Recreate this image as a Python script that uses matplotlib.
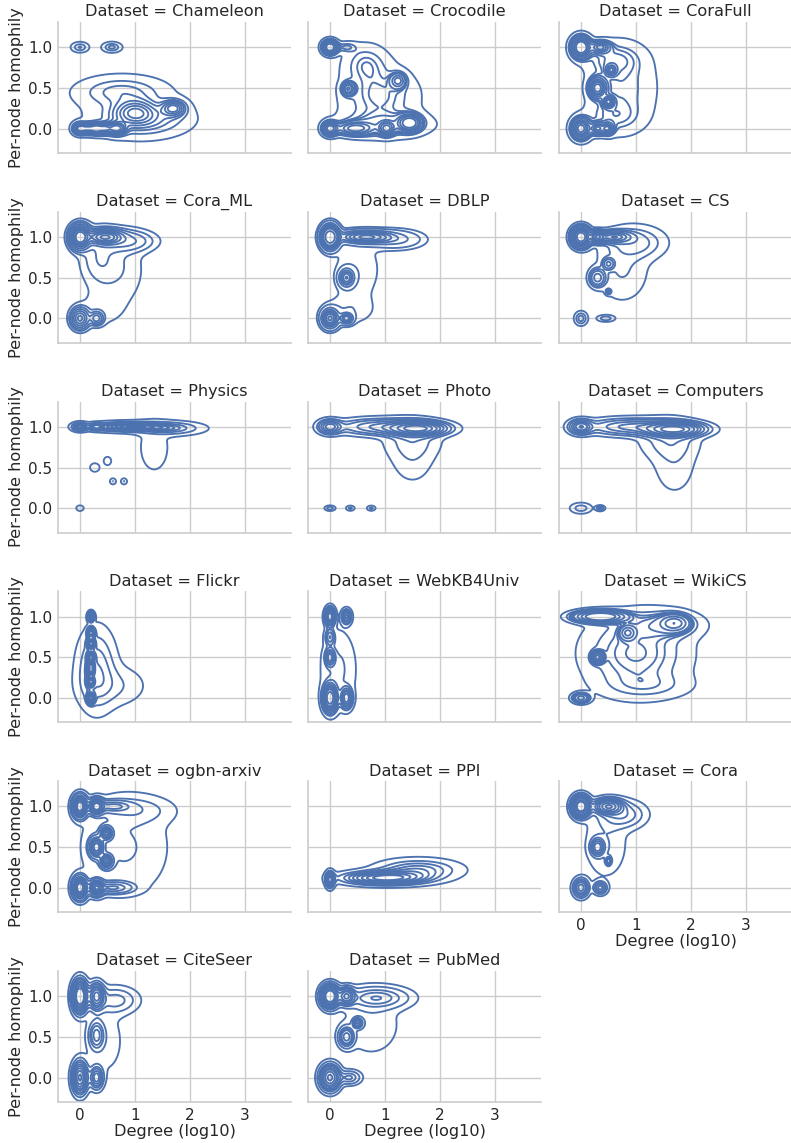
import numpy as np
import matplotlib
matplotlib.use("Agg")
import matplotlib.pyplot as plt

datasets = ["Chameleon", "Crocodile", "CoraFull", "Cora_ML", "DBLP", "CS",
            "Physics", "Photo", "Computers", "Flickr", "WebKB4Univ", "WikiCS",
            "ogbn-arxiv", "PPI", "Cora", "CiteSeer", "PubMed"]

# density components:
# (log10 degree, homophily, spread x, spread y, weight)
chameleon = [(0, 1, 0.09, 0.035, 0.008), (0.58, 1, 0.1, 0.035, 0.01),
             (0, 0, 0.07, 0.04, 0.04), (0.15, 0, 0.07, 0.04, 0.03), (0.3, 0, 0.07, 0.04, 0.04),
             (0.45, 0, 0.07, 0.04, 0.03), (0.66, 0.0, 0.1, 0.045, 0.06),
             (1.0, 0.2, 0.22, 0.09, 0.14), (1.7, 0.25, 0.13, 0.06, 0.06),
             (1.15, 0.12, 0.45, 0.12, 0.2), (0.75, 0.45, 0.45, 0.11, 0.14), (0.9, 0.2, 0.7, 0.25, 0.08)]
crocodile = [(0, 1, 0.08, 0.05, 0.06), (0.3, 1, 0.12, 0.04, 0.01),
             (0, 0, 0.08, 0.05, 0.05), (0.45, 0.0, 0.2, 0.05, 0.08), (1.03, 0.0, 0.08, 0.05, 0.04),
             (1.45, 0.07, 0.12, 0.06, 0.1), (1.0, 0.05, 0.5, 0.1, 0.14),
             (0.33, 0.49, 0.07, 0.05, 0.025), (1.24, 0.59, 0.09, 0.06, 0.03),
             (0.9, 0.4, 0.42, 0.22, 0.25), (0.65, 0.8, 0.25, 0.15, 0.08)]
corafull = [(0, 1, 0.1, 0.075, 0.14), (0, 0, 0.1, 0.075, 0.11), (0.3, 0.5, 0.09, 0.07, 0.09),
            (0.3, 0, 0.07, 0.045, 0.03), (0.48, 0, 0.07, 0.045, 0.03), (0.35, 1, 0.11, 0.045, 0.05),
            (0.55, 0.72, 0.06, 0.04, 0.02), (0.5, 0.33, 0.06, 0.04, 0.03),
            (0.75, 0.5, 0.38, 0.32, 0.24), (0.6, 0.85, 0.3, 0.12, 0.08), (0.6, 0.15, 0.3, 0.12, 0.06)]
cora_ml = [(0, 1, 0.1, 0.08, 0.18), (0.45, 1, 0.18, 0.05, 0.15), (0.85, 0.95, 0.3, 0.08, 0.08),
           (0.35, 0.75, 0.22, 0.22, 0.08), (0.75, 0.6, 0.3, 0.3, 0.08),
           (0, 0, 0.09, 0.07, 0.07), (0.3, 0, 0.07, 0.045, 0.02), (0.35, 0.1, 0.3, 0.15, 0.03)]
dblp = [(0, 1, 0.09, 0.08, 0.25), (0.65, 1, 0.28, 0.045, 0.2), (1.2, 0.97, 0.3, 0.07, 0.08),
        (0.3, 0.5, 0.08, 0.065, 0.06), (0, 0, 0.09, 0.07, 0.1), (0.3, 0, 0.07, 0.04, 0.03),
        (0.5, 0.6, 0.3, 0.28, 0.1), (0.35, 0.1, 0.3, 0.12, 0.04)]
cs = [(0, 1, 0.09, 0.065, 0.25), (0.3, 1, 0.07, 0.04, 0.08), (0.6, 1, 0.18, 0.04, 0.15),
      (1.0, 0.93, 0.32, 0.12, 0.13), (0.3, 0.5, 0.08, 0.06, 0.05), (0.5, 0.67, 0.06, 0.04, 0.02),
      (0.5, 0.33, 0.03, 0.02, 0.003), (0, 0, 0.07, 0.05, 0.012), (0.45, 0, 0.1, 0.025, 0.006),
      (0.75, 0.6, 0.3, 0.25, 0.13)]
physics = [(0, 1, 0.07, 0.025, 0.06), (0.3, 1, 0.06, 0.02, 0.05), (0.95, 1, 0.38, 0.03, 0.35),
           (1.6, 0.98, 0.3, 0.04, 0.15), (1.35, 0.75, 0.22, 0.25, 0.06), (0.27, 0.5, 0.05, 0.03, 0.004),
           (0.5, 0.58, 0.04, 0.03, 0.003), (0.6, 0.33, 0.03, 0.02, 0.002), (0.8, 0.33, 0.03, 0.02, 0.002),
           (0, 0, 0.04, 0.02, 0.002)]
photo = [(0, 1, 0.12, 0.05, 0.06), (1.6, 0.98, 0.3, 0.05, 0.3), (0.9, 1.0, 0.45, 0.06, 0.18),
         (1.5, 0.85, 0.32, 0.15, 0.1), (1.5, 0.6, 0.25, 0.2, 0.06), (0, 0, 0.06, 0.02, 0.003),
         (0.37, 0, 0.05, 0.02, 0.002), (0.75, 0, 0.05, 0.02, 0.002)]
computers = [(0, 1, 0.12, 0.05, 0.06), (1.7, 0.97, 0.3, 0.05, 0.3), (0.9, 1.0, 0.45, 0.06, 0.18),
             (1.6, 0.85, 0.32, 0.15, 0.1), (1.7, 0.55, 0.25, 0.25, 0.07), (0, 0, 0.12, 0.04, 0.01),
             (0.35, 0, 0.05, 0.02, 0.003)]
flickr = [(0.2, 1, 0.03, 0.03, 0.02), (0.2, 0.8, 0.035, 0.035, 0.03), (0.2, 0.67, 0.035, 0.035, 0.04),
          (0.2, 0.5, 0.035, 0.035, 0.05), (0.2, 0.4, 0.035, 0.035, 0.04), (0.2, 0.33, 0.035, 0.035, 0.04),
          (0.2, 0.2, 0.035, 0.035, 0.05), (0.2, 0.0, 0.035, 0.035, 0.05), (0.3, 0.35, 0.2, 0.28, 0.22),
          (0.6, 0.15, 0.35, 0.15, 0.08)]
webkb = [(0, 1, 0.05, 0.06, 0.1), (0, 0.75, 0.05, 0.06, 0.03), (0, 0.5, 0.05, 0.06, 0.05),
         (0, 0, 0.07, 0.09, 0.3), (0.3, 0, 0.06, 0.07, 0.1), (0.3, 1, 0.05, 0.05, 0.04),
         (0.15, 0.35, 0.2, 0.3, 0.2)]
wikics = [(0.35, 1, 0.25, 0.04, 0.2), (1.7, 0.92, 0.15, 0.06, 0.08), (0.3, 0.5, 0.06, 0.04, 0.03),
          (0.85, 0.8, 0.08, 0.05, 0.03), (0, 0, 0.09, 0.035, 0.02), (1.0, 0.55, 0.55, 0.28, 0.4),
          (1.5, 0.9, 0.4, 0.1, 0.1), (1.2, 0.15, 0.5, 0.1, 0.05)]
arxiv = [(0, 1, 0.07, 0.07, 0.15), (0.3, 1, 0.07, 0.05, 0.1), (0.6, 1, 0.2, 0.04, 0.06),
         (0.3, 0.5, 0.07, 0.065, 0.1), (0.48, 0.67, 0.06, 0.045, 0.05), (0.48, 0.33, 0.06, 0.045, 0.05),
         (0, 0, 0.07, 0.07, 0.15), (0.3, 0, 0.07, 0.05, 0.08), (0.6, 0, 0.2, 0.04, 0.06),
         (0.8, 0.5, 0.5, 0.38, 0.25), (1.0, 0.95, 0.4, 0.1, 0.07)]
ppi = [(0, 0.1, 0.05, 0.06, 0.05), (1.0, 0.12, 0.45, 0.05, 0.45), (1.6, 0.22, 0.45, 0.08, 0.3)]
cora = [(0, 1, 0.09, 0.07, 0.18), (0.5, 1, 0.14, 0.05, 0.14), (0.75, 0.9, 0.25, 0.1, 0.1),
        (0.3, 0.5, 0.07, 0.06, 0.04), (0.5, 0.33, 0.03, 0.03, 0.006), (0, 0, 0.08, 0.065, 0.05),
        (0.35, 0, 0.07, 0.045, 0.02), (0.45, 0.55, 0.25, 0.28, 0.1)]
citeseer = [(0, 1, 0.08, 0.11, 0.25), (0.3, 1, 0.08, 0.09, 0.12), (0.65, 0.95, 0.25, 0.1, 0.1),
            (0.3, 0.52, 0.08, 0.1, 0.06), (0, 0, 0.08, 0.11, 0.18), (0.3, 0, 0.07, 0.08, 0.06),
            (0.45, 0.45, 0.25, 0.3, 0.1)]
pubmed = [(0, 1, 0.09, 0.075, 0.22), (0.3, 1, 0.08, 0.06, 0.08), (0.85, 0.98, 0.35, 0.08, 0.16),
          (0.3, 0.5, 0.08, 0.07, 0.06), (0.5, 0.67, 0.05, 0.035, 0.02), (0, 0, 0.1, 0.085, 0.2),
          (0.35, 0, 0.12, 0.05, 0.03), (0.75, 0.65, 0.35, 0.25, 0.12)]

components = [chameleon, crocodile, corafull, cora_ml, dblp, cs, physics, photo, computers,
              flickr, webkb, wikics, arxiv, ppi, cora, citeseer, pubmed]

x_ticks = [0, 1, 2, 3]
y_ticks = [0.0, 0.5, 1.0]
y_ticklabels = ["0.0", "0.5", "1.0"]

BLUE = "#4C72B0"
GRID = "#cccccc"
TXT = "#262626"

gx = np.linspace(-1.0, 4.5, 480)
gy = np.linspace(-0.8, 1.8, 300)
XX, YY = np.meshgrid(gx, gy)


def density(comps):
    z = np.zeros_like(XX)
    for (cx, cy, sx, sy, w) in comps:
        z += w / (sx * sy) * np.exp(-0.5 * (((XX - cx) / sx) ** 2 + ((YY - cy) / sy) ** 2))
    return z


def iso_levels(z, props):
    vals = np.sort(z.ravel())[::-1]
    cum = np.cumsum(vals) / vals.sum()
    idx = np.searchsorted(cum, 1 - np.asarray(props))
    return np.take(vals, idx, mode="clip")


W, H = 791, 1143
fig = plt.figure(figsize=(W / 100, H / 100), dpi=100)
lefts = [58, 308, 559]
aw, ah = 233, 131
tops = [22 + 189.8 * r for r in range(6)]

props = np.linspace(0.05, 1, 10)
for i, (name, comps) in enumerate(zip(datasets, components)):
    r, c = divmod(i, 3)
    ax = fig.add_axes([lefts[c] / W, 1 - (tops[r] + ah) / H, aw / W, ah / H])
    z = density(comps)
    lev = np.unique(iso_levels(z, props))
    ax.contour(XX, YY, z, levels=lev, colors=BLUE, linewidths=1.35)
    ax.set_xlim(-0.4, 3.84)
    ax.set_ylim(-0.30, 1.31)
    ax.set_xticks(x_ticks)
    ax.set_yticks(y_ticks)
    ax.grid(True, color=GRID, lw=1)
    ax.set_axisbelow(True)
    for s in ["top", "right"]:
        ax.spines[s].set_visible(False)
    for s in ["left", "bottom"]:
        ax.spines[s].set_color(GRID)
        ax.spines[s].set_linewidth(1.2)
    ax.tick_params(length=0, labelsize=11, colors=TXT, pad=4)
    ax.set_title(f"Dataset = {name}", fontsize=11.6, color=TXT, pad=4)
    bottom = (i >= 15) or (c == 2 and r == 4)
    if not bottom:
        ax.set_xticklabels([])
    else:
        ax.set_xlabel("Degree (log10)", fontsize=11.6, color=TXT, labelpad=1)
    if c == 0:
        ax.set_yticklabels(y_ticklabels)
        ax.set_ylabel("Per-node homophily", fontsize=11.6, color=TXT, labelpad=3)
    else:
        ax.set_yticklabels([])

fig.savefig("out.png", dpi=100)
